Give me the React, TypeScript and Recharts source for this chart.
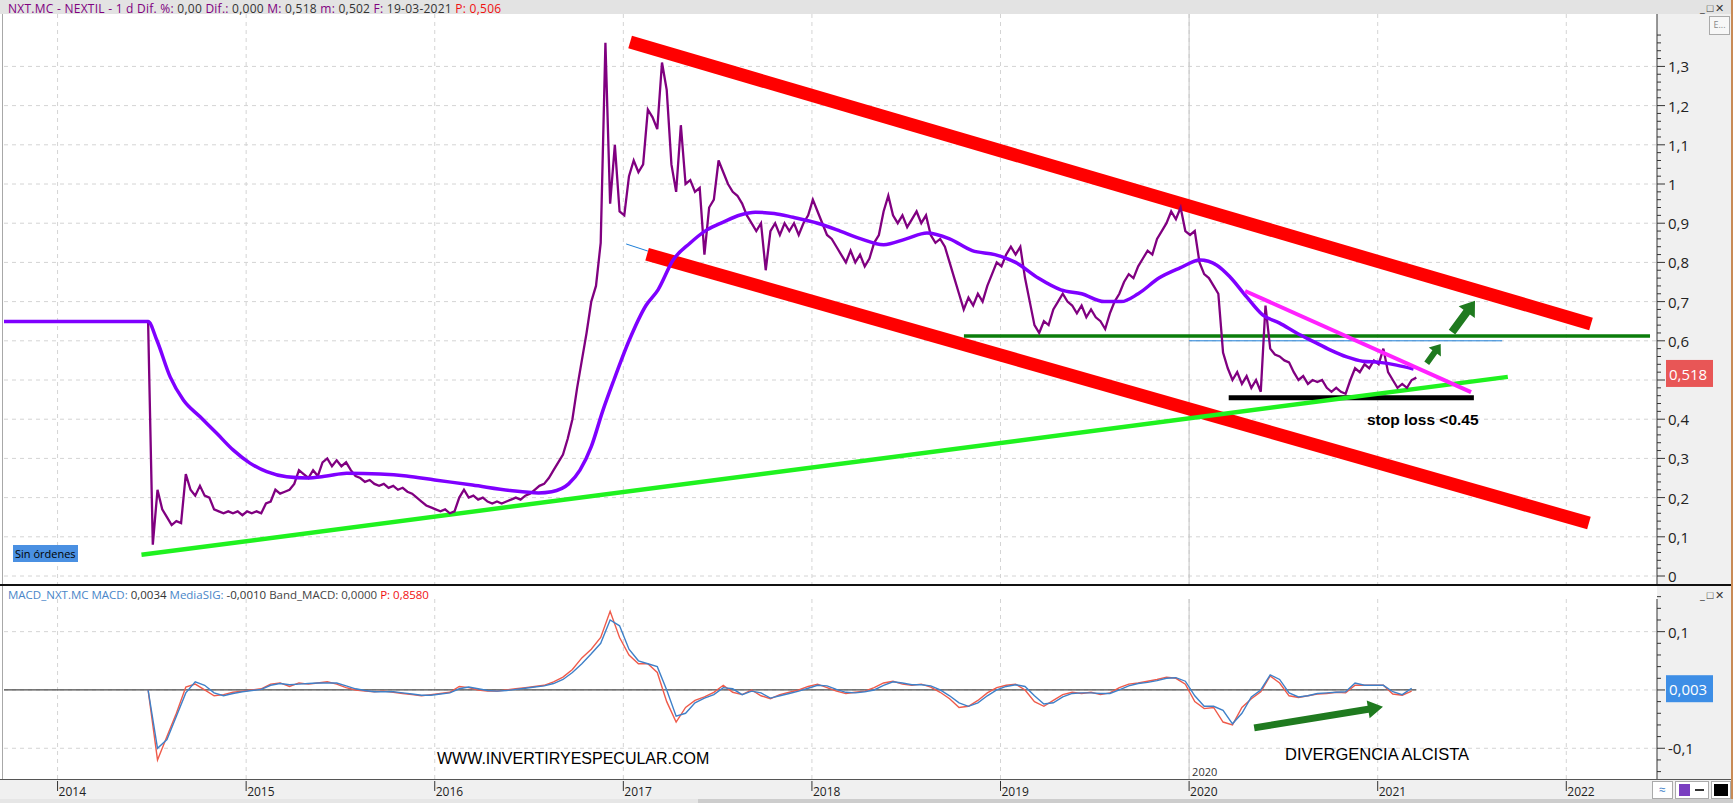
import React from 'react';
import { ComposedChart, Line, XAxis, YAxis, CartesianGrid, ReferenceLine } from 'recharts';

// ---------- axes ----------
const yearTicks = [2014, 2015, 2016, 2017, 2018, 2019, 2020, 2021, 2022];
const xDomain: [number, number] = [2013.716, 2022.481];
const priceMajorTicks = [0, 0.1, 0.2, 0.3, 0.4, 0.5, 0.6, 0.7, 0.8, 0.9, 1, 1.1, 1.2, 1.3];
const macdMajorTicks = [-0.1, 0, 0.1];
const priceDomain: [number, number] = [-0.0204, 1.4337];
const macdDomain: [number, number] = [-0.1527, 0.156];
const lastPrice = 0.518;
const lastMacd = 0.003;

// ---------- price (close, sampled every 0.025 year from mid 2014) ----------
const priceStart = 2014.48;
const priceStep = 0.025;
const priceClose = [
  0.65, 0.08, 0.22, 0.17, 0.15, 0.13, 0.14, 0.135, 0.26, 0.22,
  0.205, 0.23, 0.205, 0.2, 0.17, 0.165, 0.16, 0.165, 0.16, 0.165,
  0.155, 0.165, 0.16, 0.165, 0.16, 0.185, 0.19, 0.22, 0.21, 0.215,
  0.22, 0.235, 0.27, 0.26, 0.25, 0.27, 0.255, 0.29, 0.3, 0.28,
  0.295, 0.28, 0.29, 0.27, 0.255, 0.25, 0.24, 0.245, 0.235, 0.23,
  0.235, 0.225, 0.23, 0.22, 0.225, 0.215, 0.21, 0.2, 0.19, 0.18,
  0.175, 0.17, 0.165, 0.17, 0.16, 0.165, 0.2, 0.22, 0.2, 0.205,
  0.195, 0.2, 0.19, 0.185, 0.19, 0.185, 0.19, 0.195, 0.2, 0.195,
  0.205, 0.21, 0.22, 0.23, 0.235, 0.25, 0.27, 0.29, 0.31, 0.35,
  0.4, 0.48, 0.55, 0.62, 0.7, 0.74, 0.85, 1.36, 0.95, 1.1,
  0.93, 0.92, 1.02, 1.06, 1.03, 1.05, 1.19, 1.17, 1.14, 1.31,
  1.24, 1.05, 0.98, 1.15, 1.0, 1.01, 0.98, 0.99, 0.82, 0.94,
  0.96, 1.06, 1.03, 1.0, 0.98, 0.97, 0.95, 0.92, 0.9, 0.88,
  0.9, 0.78, 0.88, 0.9, 0.87, 0.9, 0.88, 0.9, 0.87, 0.9,
  0.92, 0.96, 0.93, 0.9, 0.87, 0.86, 0.84, 0.82, 0.8, 0.83,
  0.8, 0.82, 0.79, 0.81, 0.85, 0.87, 0.93, 0.97, 0.92, 0.9,
  0.92, 0.89, 0.91, 0.93, 0.9, 0.92, 0.87, 0.85, 0.86, 0.84,
  0.8, 0.76, 0.72, 0.68, 0.71, 0.69, 0.72, 0.7, 0.74, 0.77,
  0.8, 0.79, 0.82, 0.84, 0.82, 0.84, 0.76, 0.7, 0.64, 0.62,
  0.65, 0.64, 0.68, 0.7, 0.72, 0.7, 0.69, 0.67, 0.69, 0.66,
  0.68, 0.66, 0.65, 0.63, 0.67, 0.7, 0.72, 0.75, 0.77, 0.76,
  0.79, 0.81, 0.83, 0.82, 0.86, 0.88, 0.9, 0.93, 0.91, 0.94,
  0.88, 0.87, 0.88, 0.8, 0.77, 0.76, 0.74, 0.72, 0.57, 0.53,
  0.5, 0.52, 0.49, 0.51, 0.48, 0.5, 0.47, 0.69, 0.58, 0.565,
  0.56, 0.55, 0.545, 0.52, 0.5, 0.51, 0.49, 0.5, 0.495, 0.5,
  0.48, 0.47, 0.48, 0.47, 0.465, 0.5, 0.53, 0.52, 0.54, 0.53,
  0.55, 0.54, 0.58, 0.52, 0.5, 0.48, 0.49, 0.48, 0.5, 0.506,
];

// ---------- moving average ----------
const maYears = [
  2013.716, 2014.48, 2014.526, 2014.597, 2014.667, 2014.756, 2014.844, 2014.932, 2015.02, 2015.109,
  2015.215, 2015.32, 2015.427, 2015.533, 2015.71, 2015.85, 2016.0, 2016.2, 2016.4, 2016.55,
  2016.62, 2016.71, 2016.77, 2016.83, 2016.89, 2016.95, 2017.03, 2017.12, 2017.184, 2017.264,
  2017.353, 2017.443, 2017.53, 2017.62, 2017.7, 2017.8, 2017.9, 2018.03, 2018.15, 2018.26,
  2018.38, 2018.5, 2018.61, 2018.73, 2018.85, 2018.97, 2019.08, 2019.2, 2019.32, 2019.43,
  2019.55, 2019.64, 2019.73, 2019.84, 2019.952, 2020.058, 2020.147, 2020.217, 2020.305, 2020.39,
  2020.48, 2020.57, 2020.66, 2020.747, 2020.836, 2020.92, 2021.01, 2021.1, 2021.19,
];
const maValues = [
  0.649, 0.649, 0.602, 0.508, 0.449, 0.406, 0.364, 0.321, 0.288, 0.266,
  0.253, 0.25, 0.255, 0.262, 0.26, 0.255, 0.245, 0.232, 0.218, 0.212,
  0.215, 0.235, 0.27, 0.33, 0.42, 0.5, 0.6, 0.69, 0.73, 0.806,
  0.849, 0.883, 0.903, 0.921, 0.928, 0.925, 0.915, 0.9, 0.88, 0.86,
  0.845, 0.86, 0.875, 0.86, 0.83, 0.82, 0.8, 0.76, 0.73, 0.72,
  0.7, 0.7, 0.72, 0.76, 0.786, 0.806, 0.793, 0.763, 0.712, 0.666,
  0.645, 0.62, 0.598, 0.577, 0.559, 0.548, 0.545, 0.538, 0.528,
];

// ---------- MACD (every 0.05 year) ----------
const macdStart = 2014.48;
const macdStep = 0.05;
const macdRed = [
  0, -0.12, -0.08, -0.04, 0.005, 0.01, 0.0, -0.01, -0.008, -0.004,
  -0.002, 0.0, 0.002, 0.01, 0.012, 0.006, 0.012, 0.01, 0.012, 0.014,
  0.01, 0.004, 0.0, -0.002, -0.003, -0.002, -0.004, -0.006, -0.008, -0.01,
  -0.008, -0.006, -0.004, 0.006, 0.004, 0.0, -0.002, -0.002, 0.0, 0.002,
  0.004, 0.006, 0.008, 0.014, 0.022, 0.035, 0.055, 0.07, 0.09, 0.135,
  0.09, 0.06, 0.045, 0.045, 0.03, -0.02, -0.055, -0.03, -0.018, -0.012,
  -0.004, 0.008, -0.004, -0.008, 0.0, -0.01, -0.015, -0.008, -0.004, 0.0,
  0.006, 0.01, 0.004, -0.002, -0.006, -0.004, -0.002, 0.004, 0.012, 0.015,
  0.01, 0.008, 0.01, 0.005, -0.004, -0.015, -0.03, -0.028, -0.018, -0.005,
  0.004, 0.008, 0.01, 0.0, -0.02, -0.028, -0.018, -0.008, -0.004, -0.006,
  -0.004, -0.008, -0.005, 0.004, 0.01, 0.012, 0.015, 0.018, 0.022, 0.02,
  0.01, -0.02, -0.032, -0.03, -0.055, -0.06, -0.03, -0.015, -0.003, 0.024,
  0.012, -0.01, -0.013, -0.01, -0.007, -0.006, -0.004, -0.005, 0.008, 0.008,
  0.008, 0.008, -0.007, -0.009, -0.002,
];
const macdBlue = [
  0, -0.1, -0.085, -0.045, -0.005, 0.014, 0.008, -0.005, -0.01, -0.006,
  -0.003, -0.001, 0.001, 0.008, 0.011, 0.009, 0.01, 0.011, 0.012, 0.012,
  0.012, 0.007, 0.002, -0.001, -0.003, -0.003, -0.003, -0.005, -0.007, -0.009,
  -0.009, -0.007, -0.005, 0.002, 0.005, 0.002, -0.001, -0.002, -0.001, 0.001,
  0.003, 0.005, 0.007, 0.011, 0.018, 0.03, 0.045, 0.062, 0.08, 0.12,
  0.11, 0.07, 0.05, 0.045, 0.04, 0.0, -0.045, -0.04, -0.022, -0.014,
  -0.008, 0.004, 0.002, -0.008, -0.002, -0.005, -0.014, -0.01, -0.006, -0.002,
  0.003, 0.008, 0.007, 0.001, -0.004, -0.005, -0.003, 0.0, 0.008, 0.014,
  0.012, 0.009, 0.009, 0.007, 0.0, -0.01, -0.022, -0.028, -0.022, -0.01,
  0.0, 0.006, 0.009, 0.006, -0.01, -0.024, -0.022, -0.012, -0.006, -0.005,
  -0.005, -0.006, -0.006, 0.0, 0.007, 0.011, 0.013, 0.016, 0.02, 0.021,
  0.015, -0.01, -0.028, -0.028, -0.035, -0.058, -0.04, -0.012, 0.0, 0.026,
  0.018, -0.005, -0.012, -0.01, -0.006, -0.005, -0.004, -0.003, 0.012, 0.008,
  0.008, 0.008, -0.003, -0.008, 0.003,
];
const bandYears = [2013.716, 2021.205];
const bandValues = [0, 0];

// ---------- drawn trend lines (year, value) ----------
const channelTopYears = [2017.036, 2022.131];
const channelTopValues = [1.362, 0.643];
const channelBottomYears = [2017.126, 2022.12];
const channelBottomValues = [0.821, 0.135];
const supportYears = [2014.445, 2021.69];
const supportValues = [0.054, 0.508];
const resistYears = [2018.806, 2022.444];
const resistValues = [0.612, 0.612];
const stopYears = [2020.21, 2021.51];
const stopValues = [0.455, 0.455];
const wedgeYears = [2020.297, 2021.495];
const wedgeValues = [0.727, 0.469];
const thinBlueAYears = [2017.015, 2017.13];
const thinBlueAValues = [0.847, 0.829];
const thinBlueBYears = [2020.0, 2021.66];
const thinBlueBValues = [0.6, 0.6];
const arrowSmall = [{ x: 2021.26, y: 0.543 }, { x: 2021.334, y: 0.592 }];
const arrowBig = [{ x: 2021.394, y: 0.622 }, { x: 2021.516, y: 0.702 }];
const arrowMacd = [{ x: 2020.345, y: -0.065 }, { x: 2021.028, y: -0.029 }];

const pts = (xs: number[], ys: number[]) => xs.map((x, i) => ({ x, y: ys[i] }));
const priceData = priceClose.map((v, i) => ({ x: +(priceStart + i * priceStep).toFixed(3), y: v }));
const maData = pts(maYears, maValues);
const macdRedData = macdRed.map((v, i) => ({ x: +(macdStart + i * macdStep).toFixed(3), y: v }));
const macdBlueData = macdBlue.map((v, i) => ({ x: +(macdStart + i * macdStep).toFixed(3), y: v }));

const FONT = '"Open Sans", "Noto Sans", sans-serif';
const fmt = (v: number) =>
  Math.abs(v - Math.round(v)) < 1e-9 ? String(Math.round(v)) : v.toFixed(1).replace('.', ',');
const isMajor = (v: number, majors: number[]) => majors.some((m) => Math.abs(m - v) < 1e-9);

const minorsOf = (majors: number[], extra: number[]) =>
  majors.flatMap((m) => [0.02, 0.04, 0.06, 0.08].map((d) => +(m + d).toFixed(3))).concat(extra);
const priceTicks = [...priceMajorTicks, ...minorsOf(priceMajorTicks, []), lastPrice];
const macdTicks = [...macdMajorTicks, ...minorsOf([-0.1, 0, 0.1], [-0.12, -0.14]), lastMacd];

const makeTick = (majors: number[], tagValue: number, tagColor: string, tagText: string) => (props: any) => {
  const { x, y, payload } = props;
  const v = payload.value;
  if (v === tagValue) {
    return (
      <g>
        <rect x={x + 9} y={y - 13} width={47} height={27} fill={tagColor} />
        <text x={x + 12} y={y + 1} dominantBaseline="central" fill="#fff" fontSize={15} fontFamily={FONT}>
          {tagText}
        </text>
      </g>
    );
  }
  if (isMajor(v, majors)) {
    const hidden = Math.abs(v - tagValue) < 0.03;
    return (
      <g>
        <line x1={x} y1={y} x2={x + 8} y2={y} stroke="#333" />
        {!hidden && (
          <text x={x + 11} y={y} dominantBaseline="central" fill="#222" fontSize={15} fontFamily={FONT}>
            {fmt(v)}
          </text>
        )}
      </g>
    );
  }
  return <line x1={x} y1={y} x2={x + 4} y2={y} stroke="#333" />;
};

const PriceTick = makeTick(priceMajorTicks, lastPrice, '#e85656', '0,518');
const MacdTick = makeTick(macdMajorTicks, lastMacd, '#3d8ee6', '0,003');

const TimeTick = (props: any) => {
  const { x, y, payload } = props;
  return (
    <g>
      <line x1={x} y1={y + 2} x2={x} y2={y + 12} stroke="#333" />
      <text x={x + 1} y={y + 17} fontSize={12} fill="#222" fontFamily={FONT}>
        {payload.value}
      </text>
    </g>
  );
};

const makeArrow = (body: number, headLen: number, headW: number) => (p: any) => {
  const { x1, y1, x2, y2 } = p;
  if ([x1, y1, x2, y2].some((n) => typeof n !== 'number' || isNaN(n))) return <g />;
  const dx = x2 - x1;
  const dy = y2 - y1;
  const len = Math.hypot(dx, dy) || 1;
  const ux = dx / len;
  const uy = dy / len;
  const px = -uy;
  const py = ux;
  const bx = x2 - ux * headLen;
  const by = y2 - uy * headLen;
  const b = body / 2;
  const h = headW / 2;
  const P = [
    [x1 + px * b, y1 + py * b],
    [bx + px * b, by + py * b],
    [bx + px * h, by + py * h],
    [x2, y2],
    [bx - px * h, by - py * h],
    [bx - px * b, by - py * b],
    [x1 - px * b, y1 - py * b],
  ];
  return <polygon points={P.map((q) => q.join(',')).join(' ')} fill="#1f7a1f" />;
};

const seg = (data: { x: number; y: number }[], stroke: string, width: number, key: string) => (
  <Line
    key={key}
    data={data}
    dataKey="y"
    type="linear"
    stroke={stroke}
    strokeWidth={width}
    strokeLinecap="butt"
    dot={false}
    activeDot={false}
    isAnimationActive={false}
    legendType="none"
  />
);

export default function App() {
  return (
    <div
      style={{
        position: 'fixed',
        left: 0,
        top: 0,
        width: 1733,
        height: 803,
        background: '#fff',
        overflow: 'hidden',
        fontFamily: FONT,
      }}
    >
      {/* backgrounds */}
      <div style={{ position: 'absolute', left: 1657, top: 14, width: 74, height: 765, background: '#f0f0f0' }} />
      <div style={{ position: 'absolute', left: 0, top: 779, width: 1733, height: 20, background: '#f0f0f0' }} />

      {/* main price panel */}
      <div style={{ position: 'absolute', left: 0, top: 0 }}>
        <ComposedChart width={1733} height={592} margin={{ top: 14, right: 0, bottom: 8, left: 4 }}>
          <CartesianGrid
            stroke="#d4d4d4"
            strokeDasharray="4 4"
            verticalValues={yearTicks}
            horizontalValues={priceMajorTicks}
          />
          <XAxis type="number" dataKey="x" domain={xDomain} ticks={yearTicks} allowDataOverflow hide />
          <YAxis
            orientation="right"
            width={76}
            domain={priceDomain}
            ticks={priceTicks}
            interval={0}
            allowDataOverflow
            tick={<PriceTick />}
            tickLine={false}
            tickSize={0}
            tickMargin={0}
            axisLine={{ stroke: '#333' }}
          />
          <ReferenceLine x={2020} stroke="#c4c4c4" />
          {seg(pts(channelTopYears, channelTopValues), '#ff0000', 13, 'ct')}
          {seg(pts(channelBottomYears, channelBottomValues), '#ff0000', 13, 'cb')}
          {seg(pts(stopYears, stopValues), '#000000', 5, 'stop')}
          {seg(pts(supportYears, supportValues), '#1ff21f', 4.5, 'sup')}
          {seg(pts(resistYears, resistValues), '#0b7d0b', 3.5, 'res')}
          {seg(pts(thinBlueAYears, thinBlueAValues), '#1e7fd8', 1, 'tba')}
          {seg(pts(thinBlueBYears, thinBlueBValues), '#1e7fd8', 1, 'tbb')}
          <Line
            data={priceData}
            dataKey="y"
            type="linear"
            stroke="#800080"
            strokeWidth={2.3}
            dot={false}
            activeDot={false}
            isAnimationActive={false}
          />
          <Line
            data={maData}
            dataKey="y"
            type="monotone"
            stroke="#7f00ff"
            strokeWidth={3.5}
            dot={false}
            activeDot={false}
            isAnimationActive={false}
          />
          {seg(pts(wedgeYears, wedgeValues), '#ff22ff', 4, 'wedge')}
          <ReferenceLine segment={arrowSmall} stroke="#1f7a1f" shape={makeArrow(6, 10, 15)} />
          <ReferenceLine segment={arrowBig} stroke="#1f7a1f" shape={makeArrow(8, 14, 20)} />
        </ComposedChart>
      </div>

      {/* MACD panel */}
      <div style={{ position: 'absolute', left: 0, top: 584 }}>
        <ComposedChart width={1733} height={219} margin={{ top: 15, right: 0, bottom: 0, left: 4 }}>
          <CartesianGrid
            stroke="#d4d4d4"
            strokeDasharray="4 4"
            verticalValues={yearTicks}
            horizontalValues={macdMajorTicks}
          />
          <XAxis
            type="number"
            dataKey="x"
            domain={xDomain}
            ticks={yearTicks}
            interval={0}
            allowDataOverflow
            height={24}
            axisLine={false}
            tickLine={false}
            tickSize={0}
            tickMargin={0}
            tick={<TimeTick />}
          />
          <YAxis
            orientation="right"
            width={76}
            domain={macdDomain}
            ticks={macdTicks}
            interval={0}
            allowDataOverflow
            tick={<MacdTick />}
            tickLine={false}
            tickSize={0}
            tickMargin={0}
            axisLine={{ stroke: '#333' }}
          />
          <ReferenceLine
            x={2020}
            stroke="#c4c4c4"
            label={{ value: '2020', position: 'insideBottomLeft', offset: 3, fontSize: 11, fill: '#333' }}
          />
          {seg(pts(bandYears, bandValues), '#4a4a4a', 1.3, 'band')}
          <Line
            data={macdRedData}
            dataKey="y"
            type="linear"
            stroke="#ef5b4b"
            strokeWidth={1.4}
            dot={false}
            activeDot={false}
            isAnimationActive={false}
          />
          <Line
            data={macdBlueData}
            dataKey="y"
            type="linear"
            stroke="#3f80c8"
            strokeWidth={1.4}
            dot={false}
            activeDot={false}
            isAnimationActive={false}
          />
          <ReferenceLine segment={arrowMacd} stroke="#1f7a1f" shape={makeArrow(7, 15, 18)} />
        </ComposedChart>
      </div>

      {/* frame pieces */}
      <div style={{ position: 'absolute', left: 0, top: 0, width: 1733, height: 14, background: '#e3e3e3' }} />
      <div style={{ position: 'absolute', left: 2, top: 14, width: 1, height: 765, background: '#a8a8a8' }} />
      <div style={{ position: 'absolute', left: 0, top: 584, width: 1733, height: 2, background: '#111' }} />
      <div style={{ position: 'absolute', left: 0, top: 779, width: 1733, height: 1, background: '#555' }} />
      <div style={{ position: 'absolute', left: 1731, top: 0, width: 2, height: 803, background: '#c88a55' }} />
      <div style={{ position: 'absolute', left: 0, top: 799, width: 1733, height: 4, background: '#e6e6e6' }} />
      <div style={{ position: 'absolute', left: 698, top: 799, width: 1035, height: 4, background: '#cdcdcd' }} />

      {/* headers */}
      <div
        style={{
          position: 'absolute',
          left: 8,
          top: 0,
          fontSize: 12,
          letterSpacing: 0.25,
          lineHeight: '17px',
          whiteSpace: 'nowrap',
          color: '#800080',
        }}
      >
        NXT.MC - NEXTIL - 1 d Dif. %: <span style={{ color: '#333' }}>0,00</span> Dif.:{' '}
        <span style={{ color: '#333' }}>0,000</span> M: <span style={{ color: '#333' }}>0,518</span> m:{' '}
        <span style={{ color: '#333' }}>0,502</span> F: <span style={{ color: '#333' }}>19-03-2021</span>{' '}
        <span style={{ color: '#f01010' }}>P: 0,506</span>
      </div>
      <div
        style={{
          position: 'absolute',
          left: 8,
          top: 587,
          fontSize: 11.5,
          lineHeight: '16px',
          whiteSpace: 'nowrap',
          color: '#4a86c8',
        }}
      >
        MACD_NXT.MC MACD: <span style={{ color: '#333' }}>0,0034</span> MediaSIG:{' '}
        <span style={{ color: '#333' }}>-0,0010</span> <span style={{ color: '#444' }}>Band_MACD: 0,0000</span>{' '}
        <span style={{ color: '#f01010' }}>P: 0,8580</span>
      </div>
      <div style={{ position: 'absolute', left: 1700, top: 0, fontSize: 11, lineHeight: '15px', color: '#333', letterSpacing: 2 }}>
        _□✕
      </div>
      <div style={{ position: 'absolute', left: 1700, top: 587, fontSize: 11, lineHeight: '15px', color: '#333', letterSpacing: 2 }}>
        _□✕
      </div>
      <div
        style={{
          position: 'absolute',
          left: 1709,
          top: 16,
          width: 19,
          height: 17,
          border: '1px solid #aaa',
          background: '#f7f7f7',
          fontSize: 9,
          lineHeight: '16px',
          textAlign: 'center',
          color: '#888',
        }}
      >
        E...
      </div>

      {/* bottom-right buttons */}
      <div style={{ position: 'absolute', left: 1652, top: 781, width: 19, height: 16, border: '1px solid #aaa', background: '#fff', fontSize: 12, lineHeight: '15px', textAlign: 'center', color: '#3f80c8' }}>≈</div>
      <div style={{ position: 'absolute', left: 1675, top: 781, width: 32, height: 16, border: '1px solid #aaa', background: '#fff' }}>
        <div style={{ position: 'absolute', left: 3, top: 2, width: 11, height: 12, background: '#7a3fc0' }} />
        <div style={{ position: 'absolute', left: 19, top: 7, width: 9, height: 2, background: '#333' }} />
      </div>
      <div style={{ position: 'absolute', left: 1711, top: 781, width: 18, height: 16, border: '1px solid #aaa', background: '#fff' }}>
        <div style={{ position: 'absolute', left: 2, top: 2, width: 14, height: 12, background: '#000' }} />
      </div>

      {/* annotations */}
      <div
        style={{
          position: 'absolute',
          left: 13,
          top: 545,
          width: 65,
          height: 17,
          background: '#4a90e2',
          color: '#000',
          fontSize: 11,
          lineHeight: '17px',
          paddingLeft: 2,
          boxSizing: 'border-box',
          whiteSpace: 'nowrap',
        }}
      >
        Sin órdenes
      </div>
      <div
        style={{
          position: 'absolute',
          left: 1367,
          top: 410,
          fontFamily: '"Liberation Sans", Arial, sans-serif',
          fontWeight: 'bold',
          fontSize: 15.5,
          lineHeight: '20px',
          color: '#000',
          whiteSpace: 'nowrap',
        }}
      >
        stop loss &lt;0.45
      </div>
      <div
        style={{
          position: 'absolute',
          left: 437,
          top: 749,
          fontFamily: '"Liberation Sans", Arial, sans-serif',
          fontSize: 16,
          lineHeight: '20px',
          color: '#000',
          whiteSpace: 'nowrap',
        }}
      >
        WWW.INVERTIRYESPECULAR.COM
      </div>
      <div
        style={{
          position: 'absolute',
          left: 1285,
          top: 744,
          fontFamily: '"Liberation Sans", Arial, sans-serif',
          fontSize: 16.5,
          lineHeight: '20px',
          color: '#000',
          whiteSpace: 'nowrap',
        }}
      >
        DIVERGENCIA ALCISTA
      </div>
    </div>
  );
}
